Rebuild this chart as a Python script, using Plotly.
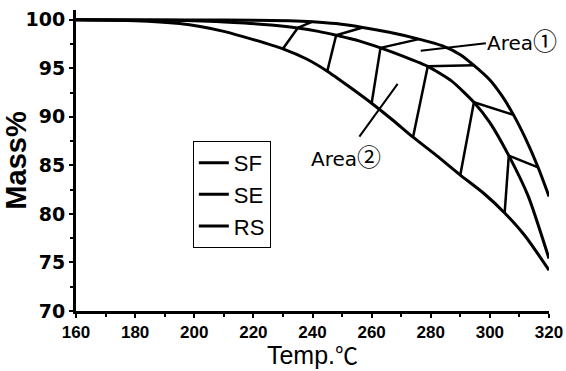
import numpy as np
import plotly.graph_objects as go

# Thermogravimetric curves: temperature (°C) vs remaining mass (%)
temp_sf = [160, 200, 220, 232, 240, 248, 257, 266, 276, 284, 290, 294.6, 300, 304, 308, 312, 316.3, 320]
mass_sf = [100.0, 99.98, 99.95, 99.9, 99.8, 99.6, 99.2, 98.7, 98.0, 97.3, 96.4, 95.3, 93.8, 92.2, 90.2, 87.8, 84.8, 81.8]

temp_se = [160, 190, 205, 217, 226, 235, 242, 248, 256, 263, 271, 279, 287, 294.6, 300, 306.4, 313, 320]
mass_se = [100.0, 99.95, 99.85, 99.65, 99.45, 99.15, 98.8, 98.4, 97.8, 97.1, 96.2, 95.2, 93.7, 91.5, 89.4, 86.0, 81.8, 75.4]

temp_rs = [160, 180, 195, 202, 210, 220, 230, 238, 245, 252, 260, 267, 274, 282, 290, 298, 305, 312, 320]
mass_rs = [100.0, 99.9, 99.6, 99.3, 98.8, 97.95, 97.0, 95.95, 94.7, 93.2, 91.4, 89.7, 87.9, 86.0, 84.0, 82.1, 80.1, 77.7, 74.2]

# Hatching of Area 1 (between SE and SF): (temperature on SE, temperature on SF)
hatch_area1 = [(235, 240), (248, 257), (263, 276), (279, 294.6), (294.6, 308), (306.4, 316.3)]
# Hatching of Area 2 (between RS and SE): (temperature on RS, temperature on SE)
hatch_area2 = [(230, 235), (245, 248), (260, 263), (274, 279), (290, 294.6), (305, 306.4)]

series = [("SF", temp_sf, mass_sf), ("SE", temp_se, mass_se), ("RS", temp_rs, mass_rs)]

fig = go.Figure()

for name, t, m in series:
    fig.add_trace(go.Scatter(
        x=t, y=m, name=name, mode="lines",
        line=dict(color="black", width=3, shape="spline", smoothing=0.6),
    ))


def hatch_trace(pairs, t_lo, m_lo, t_hi, m_hi):
    xs, ys = [], []
    for a, b in pairs:
        xs += [a, b, None]
        ys += [float(np.interp(a, t_lo, m_lo)), float(np.interp(b, t_hi, m_hi)), None]
    return go.Scatter(x=xs, y=ys, mode="lines", showlegend=False, hoverinfo="skip",
                      line=dict(color="black", width=2.5))


fig.add_trace(hatch_trace(hatch_area1, temp_se, mass_se, temp_sf, mass_sf))
fig.add_trace(hatch_trace(hatch_area2, temp_rs, mass_rs, temp_se, mass_se))

CJK = "Noto Sans CJK SC"
label_font = dict(family="DejaVu Sans", size=20, color="black")


def area_label(n):
    return f"Area<span style='font-family:{CJK};font-size:24px'>{n}</span>"


fig.add_annotation(x=276.6, y=96.8, ax=311.0, ay=98.0, axref="x", ayref="y",
                   text=area_label("①"), showarrow=True, arrowhead=0, arrowwidth=2,
                   arrowcolor="black", standoff=0, startstandoff=0, font=label_font)
fig.add_annotation(x=268.8, y=93.4, ax=251.2, ay=86.0, axref="x", ayref="y",
                   text=area_label("②"), showarrow=True, arrowhead=0, arrowwidth=2,
                   arrowcolor="black", standoff=0, startstandoff=0, font=label_font)

fig.update_layout(
    width=566, height=371,
    margin=dict(l=76, r=17, t=10, b=60),
    paper_bgcolor="white", plot_bgcolor="white",
    showlegend=True,
    legend=dict(
        x=0.247, y=0.565, xanchor="left", yanchor="top",
        bgcolor="white", bordercolor="black", borderwidth=1,
        font=dict(family="Liberation Sans, Arial", size=22, color="black"),
        traceorder="normal", itemwidth=30, tracegroupgap=0,
    ),
)

fig.update_xaxes(
    range=[160, 320], tickvals=list(range(160, 321, 20)), automargin=False,
    showline=True, linecolor="black", linewidth=3, mirror=False,
    showgrid=False, zeroline=False,
    ticks="outside", ticklen=4, tickwidth=2, tickcolor="black",
    minor=dict(ticks="outside", ticklen=3, tickwidth=2, tickcolor="black", dtick=10),
    tickfont=dict(family="Liberation Sans, Arial", size=17, color="black", weight="bold"),
    title=dict(text=f"Temp.<span style='font-family:{CJK};font-size:23px'>℃</span>", standoff=4,
               font=dict(family="Liberation Sans, Arial", size=25, color="black")),
)
fig.update_yaxes(
    range=[70, 101], tickvals=list(range(70, 101, 5)), automargin=False,
    showline=True, linecolor="black", linewidth=3, mirror=False,
    showgrid=False, zeroline=False,
    ticks="outside", ticklen=4, tickwidth=2, tickcolor="black",
    minor=dict(ticks="outside", ticklen=3, tickwidth=2, tickcolor="black", dtick=2.5),
    tickfont=dict(family="DejaVu Sans", size=19, color="black", weight="bold"),
    title=dict(text="Mass%", standoff=0,
               font=dict(family="Liberation Sans, Arial", size=29, color="black", weight="bold")),
)

fig.write_html("out.html")
